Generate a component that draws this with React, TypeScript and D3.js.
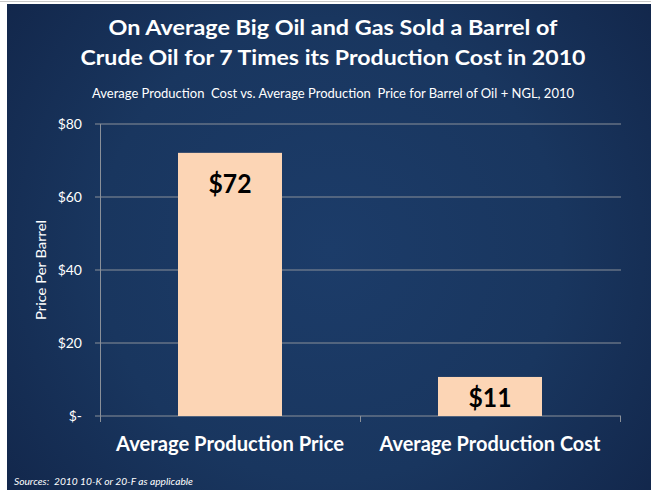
import React from "react";
import * as d3 from "d3";

const categories = ["Average Production Price", "Average Production Cost"];
const values = [72.1, 10.7];
const valueLabels = ["$72", "$11"];
const yTicks = [0, 20, 40, 60, 80];
const yTickLabels = ["$-", "$20", "$40", "$60", "$80"];
const titleLines = [
  "On Average Big Oil and Gas Sold a Barrel of",
  "Crude Oil for 7 Times its Production Cost in 2010",
];
const subtitle = "Average Production  Cost vs. Average Production  Price for Barrel of Oil + NGL, 2010";
const yAxisTitle = "Price Per Barrel";
const sourceNote = "Sources:  2010 10-K or 20-F as applicable";

const W = 651;
const H = 490;
const FONT = "Lato, 'Open Sans', sans-serif";

export default function App() {
  const x = d3
    .scaleBand<string>()
    .domain(categories)
    .range([100, 620])
    .paddingInner(0.6)
    .paddingOuter(0.3);
  const y = d3.scaleLinear().domain([0, 80]).range([416, 124]);
  const catWidths = [228, 221];
  const boundaries = [100, 360, 620];

  return (
    <div style={{ position: "fixed", left: 0, top: 0, width: W, height: H, margin: 0 }}>
      <svg width={W} height={H} style={{ display: "block" }}>
        <defs>
          <radialGradient id="bg" cx="330" cy="250" r="420" gradientUnits="userSpaceOnUse">
            <stop offset="0" stopColor="#1c3c69" />
            <stop offset="0.55" stopColor="#19365f" />
            <stop offset="1" stopColor="#12264a" />
          </radialGradient>
        </defs>
        <rect x={0} y={0} width={W} height={H} fill="#ffffff" />
        <line x1={0} x2={W} y1={1.5} y2={1.5} stroke="#c8c8c8" strokeWidth={1} />
        <rect x={7} y={4} width={W - 7} height={H - 4} fill="url(#bg)" />

        {/* Titles */}
        {titleLines.map((t, i) => (
          <text
            key={t}
            x={333}
            y={35 + i * 30}
            textAnchor="middle"
            fill="#ffffff"
            fontFamily={FONT}
            fontWeight="bold"
            fontSize={20}
            textLength={i === 0 ? 449 : 505}
            lengthAdjust="spacingAndGlyphs"
          >
            {t}
          </text>
        ))}
        <text
          x={333}
          y={98}
          textAnchor="middle"
          fill="#ffffff"
          fontFamily={FONT}
          fontSize={12.5}
          textLength={482}
          lengthAdjust="spacingAndGlyphs"
          style={{ whiteSpace: "pre" }}
        >
          {subtitle}
        </text>

        {/* Gridlines */}
        {yTicks.map((t) => (
          <line
            key={"g" + t}
            x1={95}
            x2={621}
            y1={y(t)}
            y2={y(t)}
            stroke="#8a9099"
            strokeWidth={1}
          />
        ))}
        {/* Y axis line */}
        <line x1={100.5} x2={100.5} y1={y(80)} y2={y(0) + 5} stroke="#8a9099" strokeWidth={1} />
        {/* X axis ticks */}
        {boundaries.map((b) => (
          <line key={"b" + b} x1={b + 0.5} x2={b + 0.5} y1={y(0)} y2={y(0) + 6} stroke="#8a9099" strokeWidth={1} />
        ))}

        {/* Y tick labels */}
        {yTicks.map((t, i) => (
          <text
            key={"t" + t}
            x={82}
            y={y(t) + 5}
            textAnchor="end"
            fill="#ffffff"
            fontFamily={FONT}
            fontSize={14}
          >
            {yTickLabels[i]}
          </text>
        ))}

        {/* Y axis title */}
        <text
          transform={`translate(46,270) rotate(-90)`}
          textAnchor="middle"
          fill="#ffffff"
          fontFamily={FONT}
          fontSize={13}
          textLength={100}
          lengthAdjust="spacingAndGlyphs"
        >
          {yAxisTitle}
        </text>

        {/* Bars */}
        {categories.map((c, i) => (
          <rect
            key={"r" + c}
            x={x(c)!}
            y={y(values[i])}
            width={x.bandwidth()}
            height={y(0) - y(values[i])}
            fill="#fcd5b5"
          />
        ))}
        {/* Value labels */}
        {categories.map((c, i) => (
          <text
            key={"v" + c}
            x={x(c)! + x.bandwidth() / 2}
            y={Math.min(y(values[i]) + 40, 407)}
            textAnchor="middle"
            fill="#000000"
            fontFamily={FONT}
            fontWeight="bold"
            fontSize={26}
            textLength={43}
            lengthAdjust="spacingAndGlyphs"
          >
            {valueLabels[i]}
          </text>
        ))}

        {/* Category labels */}
        {categories.map((c, i) => (
          <text
            key={"c" + c}
            x={x(c)! + x.bandwidth() / 2}
            y={451}
            textAnchor="middle"
            fill="#ffffff"
            fontFamily={FONT}
            fontWeight="bold"
            fontSize={20}
            textLength={catWidths[i]}
            lengthAdjust="spacingAndGlyphs"
          >
            {c}
          </text>
        ))}

        {/* Source */}
        <text
          x={14}
          y={485}
          fill="#ffffff"
          fontFamily={FONT}
          fontStyle="italic"
          fontSize={9}
          textLength={179}
          lengthAdjust="spacingAndGlyphs"
          style={{ whiteSpace: "pre" }}
        >
          {sourceNote}
        </text>
      </svg>
    </div>
  );
}
